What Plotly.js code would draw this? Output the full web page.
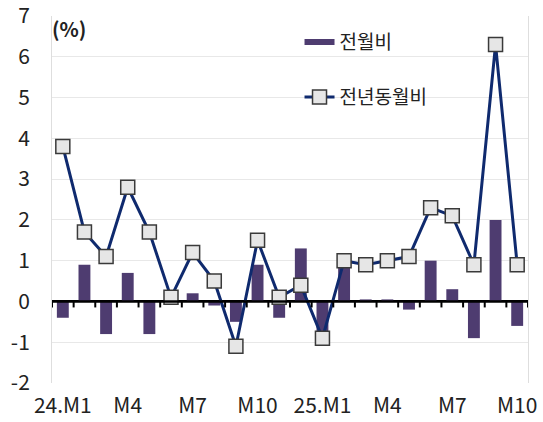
<!DOCTYPE html>
<html>
<head>
<meta charset="utf-8">
<script src="https://cdn.plot.ly/plotly-3.0.1.min.js"></script>
<style>html,body{margin:0;padding:0;background:#fff;}#chart{width:543px;height:422px;}</style>
</head>
<body>
<div id="chart"></div>
<script>
const categories = ['24.M1','24.M2','24.M3','24.M4','24.M5','24.M6','24.M7','24.M8','24.M9','24.M10','24.M11','24.M12',
                    '25.M1','25.M2','25.M3','25.M4','25.M5','25.M6','25.M7','25.M8','25.M9','25.M10'];
const momValues = [-0.4, 0.9, -0.8, 0.7, -0.8, 0.0, 0.2, -0.1, -0.5, 0.9, -0.4, 1.3,
                   -0.85, 0.9, 0.05, 0.05, -0.2, 1.0, 0.3, -0.9, 2.0, -0.6];
const yoyValues = [3.8, 1.7, 1.1, 2.8, 1.7, 0.1, 1.2, 0.5, -1.1, 1.5, 0.1, 0.4,
                   -0.9, 1.0, 0.9, 1.0, 1.1, 2.3, 2.1, 0.9, 6.3, 0.9];
const tickVals = ['24.M1','24.M4','24.M7','24.M10','25.M1','25.M4','25.M7','25.M10'];
const tickText = ['24.M1','M4','M7','M10','25.M1','M4','M7','M10'];
const yTickVals = [-2, -1, 0, 1, 2, 3, 4, 5, 6, 7];
const yTickText = ['-2', '-1', '0', '1', '2', '3', '4', '5', '6', '7'];
const seriesNames = ['전월비', '전년동월비'];

const FONT = '"Noto Sans CJK KR", "Noto Sans", sans-serif';
const barColor = '#4e3c70';
const lineColor = '#0f2a6e';

const traces = [
  {
    type: 'bar', x: categories, y: momValues, xaxis: 'x', yaxis: 'y',
    marker: {color: barColor, line: {width: 0}}, showlegend: false, name: seriesNames[0]
  },
  {
    type: 'scatter', mode: 'lines', x: [null], y: [null], xaxis: 'x', yaxis: 'y',
    line: {color: barColor, width: 6}, name: seriesNames[0], legend: 'legend', showlegend: true
  },
  {
    type: 'scatter', mode: 'lines+markers', x: categories, y: yoyValues, xaxis: 'x', yaxis: 'y',
    line: {color: lineColor, width: 3},
    marker: {symbol: 'square', size: 14, color: '#e6e6e6', line: {color: '#3a3a3a', width: 1.5}},
    name: seriesNames[1], legend: 'legend2'
  }
];

// zero axis line and category-boundary tick marks hanging below it
const axisShapes = [{
  type: 'line', xref: 'paper', yref: 'y', x0: 0, x1: 1, y0: 0, y1: 0,
  line: {color: '#000000', width: 2.5}, layer: 'above'
}];
for (let i = 0; i <= categories.length; i++) {
  axisShapes.push({
    type: 'line', xref: 'x', yref: 'y', ysizemode: 'pixel', yanchor: 0,
    x0: i - 0.5, x1: i - 0.5, y0: 0, y1: -6,
    line: {color: '#000000', width: 2}, layer: 'above'
  });
}

const layout = {
  width: 543, height: 422,
  margin: {l: 52, r: 15, t: 16, b: 39},
  paper_bgcolor: '#ffffff', plot_bgcolor: '#ffffff',
  font: {family: FONT, color: '#222222', size: 20},
  bargap: 0.45,
  xaxis: {
    type: 'category', range: [-0.5, 21.5],
    tickmode: 'array', tickvals: tickVals, ticktext: tickText,
    showgrid: false, showline: false, zeroline: false,
    ticks: 'outside', ticklen: 4, tickcolor: 'rgba(0,0,0,0)',
    tickfont: {size: 21, color: '#222222', family: FONT}
  },
  yaxis: {
    range: [-2, 7], tickmode: 'array', tickvals: yTickVals, ticktext: yTickText,
    showgrid: true, gridcolor: '#e8e8e8', gridwidth: 1,
    zeroline: true, zerolinecolor: '#000000', zerolinewidth: 2,
    showline: true, linecolor: '#dedede', linewidth: 1, mirror: true,
    ticks: 'outside', ticklen: 17, tickcolor: 'rgba(0,0,0,0)',
    ticklabeloverflow: 'allow',
    tickfont: {size: 21, color: '#222222', family: FONT}
  },
  shapes: axisShapes,
  legend: {
    x: 0.52, y: 0.929, xanchor: 'left', yanchor: 'middle', bgcolor: 'rgba(0,0,0,0)',
    font: {size: 19, color: '#222222', family: FONT}, itemwidth: 30
  },
  legend2: {
    x: 0.52, y: 0.779, xanchor: 'left', yanchor: 'middle', bgcolor: 'rgba(0,0,0,0)',
    font: {size: 19, color: '#222222', family: FONT}, itemwidth: 30
  },
  annotations: [
    {text: '(%)', xref: 'paper', yref: 'paper', x: -0.004, y: 0.967, xanchor: 'left', yanchor: 'middle',
     showarrow: false, font: {size: 20, color: '#222222', family: FONT, weight: 'bold'}}
  ]
};

Plotly.newPlot('chart', traces, layout, {displayModeBar: false, staticPlot: true});
</script>
</body>
</html>
